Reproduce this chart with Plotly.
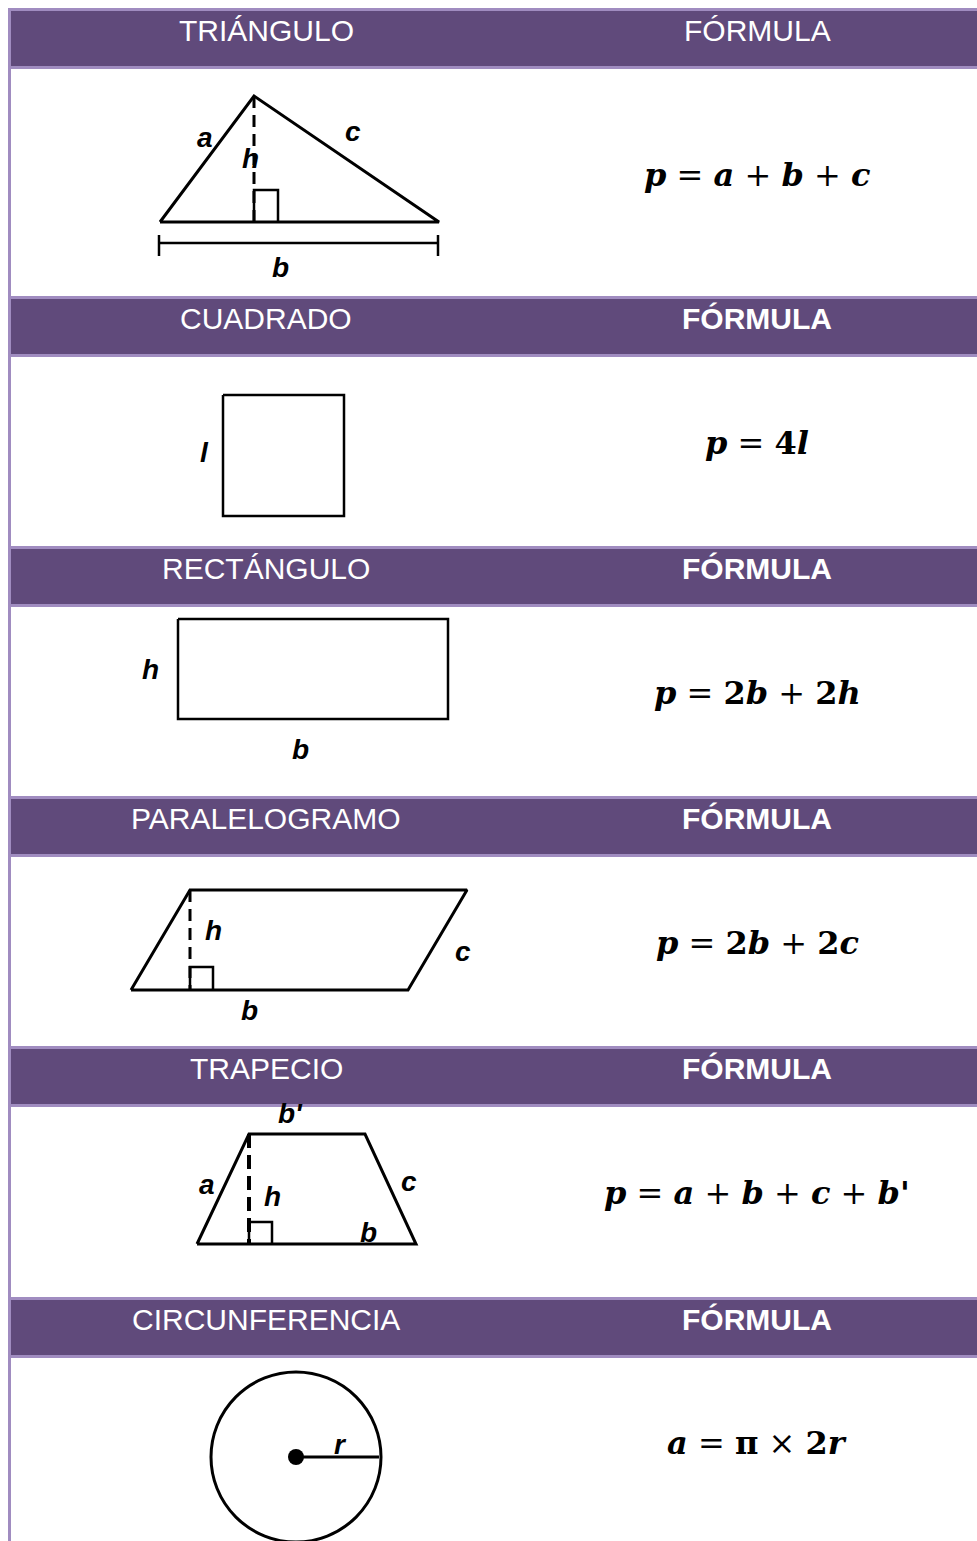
import plotly.graph_objects as go

# textos de cabecera y fórmulas
titulos = ["TRIÁNGULO", "CUADRADO", "RECTÁNGULO", "PARALELOGRAMO", "TRAPECIO", "CIRCUNFERENCIA"]
formula_neg = [False, True, True, True, True, True]
formulas = [
    "<b><i>p</i></b> = <b><i>a</i></b> + <b><i>b</i></b> + <b><i>c</i></b>",
    "<b><i>p</i></b> = <b>4<i>l</i></b>",
    "<b><i>p</i></b> = <b>2<i>b</i></b> + <b>2<i>h</i></b>",
    "<b><i>p</i></b> = <b>2<i>b</i></b> + <b>2<i>c</i></b>",
    "<b><i>p</i></b> = <b><i>a</i></b> + <b><i>b</i></b> + <b><i>c</i></b> + <b><i>b</i>'</b>",
    "<b><i>a</i></b> = <b>π</b> × <b>2<i>r</i></b>",
]
banda_y0 = [8, 296, 546, 796, 1046, 1297]   # borde superior de cada cabecera
formula_y = [175, 443, 693, 943, 1193, 1443]

# figuras (coordenadas en píxeles de la lámina)
triangulo_x = [160, 254, 439, 160]
triangulo_y = [222, 96, 222, 222]
tri_altura = ([254, 254], [96, 222])
tri_recto_x = [254, 254, 278, 278]
tri_recto_y = [222, 190, 190, 222]
tri_cota_x = [159, 438]
tri_cota_y = [243, 243]

cuadrado_x = [223, 344, 344, 223, 223]
cuadrado_y = [395, 395, 516, 516, 395]

rect_x = [178, 448, 448, 178, 178]
rect_y = [619, 619, 719, 719, 619]

paral_x = [131, 190, 467, 408, 131]
paral_y = [990, 890, 890, 990, 990]
paral_altura = ([190, 190], [890, 990])
paral_recto_x = [190, 190, 213, 213]
paral_recto_y = [990, 967, 967, 990]

trap_x = [197, 249, 365, 416, 197]
trap_y = [1244, 1134, 1134, 1244, 1244]
trap_altura = ([249, 249], [1134, 1244])
trap_recto_x = [249, 249, 272, 272]
trap_recto_y = [1244, 1222, 1222, 1244]

circ_centro = (296, 1457)
circ_radio = 85

# etiquetas de las figuras
etiquetas = [
    ("a", 205, 137), ("c", 353, 131), ("h", 250, 158), ("b", 280, 267),
    ("l", 204, 452),
    ("h", 150, 669), ("b", 300, 749),
    ("h", 213, 930), ("c", 463, 951), ("b", 249, 1010),
    ("b'", 290, 1113), ("a", 207, 1184), ("h", 272, 1196), ("c", 409, 1181), ("b", 368, 1232),
    ("r", 340, 1444),
]

OSCURO = "#604A7B"
CLARO = "#A08CC0"
W, H = 977, 1541

fig = go.Figure()

def linea(xs, ys, dash="solid", width=3):
    fig.add_trace(go.Scatter(x=xs, y=ys, mode="lines", line=dict(color="black", width=width, dash=dash),
                             hoverinfo="skip", showlegend=False))

guiones = "12px,7px"

linea(triangulo_x, triangulo_y)
linea(*tri_altura, dash=guiones)
linea(tri_recto_x, tri_recto_y, width=2.5)
linea(tri_cota_x, tri_cota_y, width=2.5)
linea([159, 159], [235, 256], width=2.5)
linea([438, 438], [235, 256], width=2.5)

linea(cuadrado_x, cuadrado_y, width=2.5)
linea(rect_x, rect_y, width=2.5)

linea(paral_x, paral_y)
linea(*paral_altura, dash=guiones)
linea(paral_recto_x, paral_recto_y, width=2.5)

linea(trap_x, trap_y)
linea(*trap_altura, dash="14px,7px", width=4)
linea(trap_recto_x, trap_recto_y, width=2.5)

cx, cy = circ_centro
fig.add_shape(type="circle", x0=cx - circ_radio, x1=cx + circ_radio, y0=cy - circ_radio, y1=cy + circ_radio,
              line=dict(color="black", width=3), layer="above")
linea([cx, cx + circ_radio - 2], [cy, cy], width=3)
fig.add_trace(go.Scatter(x=[cx], y=[cy], mode="markers", marker=dict(color="black", size=16),
                         hoverinfo="skip", showlegend=False))

# bordes y bandas de cabecera
fig.add_shape(type="line", x0=9.5, x1=9.5, y0=banda_y0[0], y1=H + 5, line=dict(color=CLARO, width=3), layer="below")
for i, y0 in enumerate(banda_y0):
    fig.add_shape(type="rect", x0=11, x1=W + 5, y0=y0, y1=y0 + 61, fillcolor=CLARO, line_width=0, layer="below")
    fig.add_shape(type="rect", x0=11, x1=W + 5, y0=y0 + 3, y1=y0 + 58, fillcolor=OSCURO, line_width=0, layer="below")
    fig.add_annotation(x=266, y=y0 + 22, text=titulos[i], showarrow=False,
                       font=dict(family="Liberation Sans, Arial", size=30, color="white"))
    t = "<b>FÓRMULA</b>" if formula_neg[i] else "FÓRMULA"
    fig.add_annotation(x=757, y=y0 + 22, text=t, showarrow=False,
                       font=dict(family="Liberation Sans, Arial", size=30, color="white"))
    fig.add_annotation(x=757, y=formula_y[i], text=formulas[i], showarrow=False,
                       font=dict(family="DejaVu Serif, serif", size=32, color="black"))

for txt, x, y in etiquetas:
    fig.add_annotation(x=x, y=y, text="<b><i>" + txt + "</i></b>", showarrow=False,
                       font=dict(family="Liberation Sans, Arial", size=28, color="black"))

fig.update_xaxes(range=[0, W], visible=False, fixedrange=True)
fig.update_yaxes(range=[H, 0], visible=False, fixedrange=True)
fig.update_layout(width=W, height=H, margin=dict(l=0, r=0, t=0, b=0),
                  plot_bgcolor="white", paper_bgcolor="white", showlegend=False)

fig.write_html("out.html", config={"displayModeBar": False},
               post_script="document.body.style.margin='0';document.body.style.overflow='hidden';")
